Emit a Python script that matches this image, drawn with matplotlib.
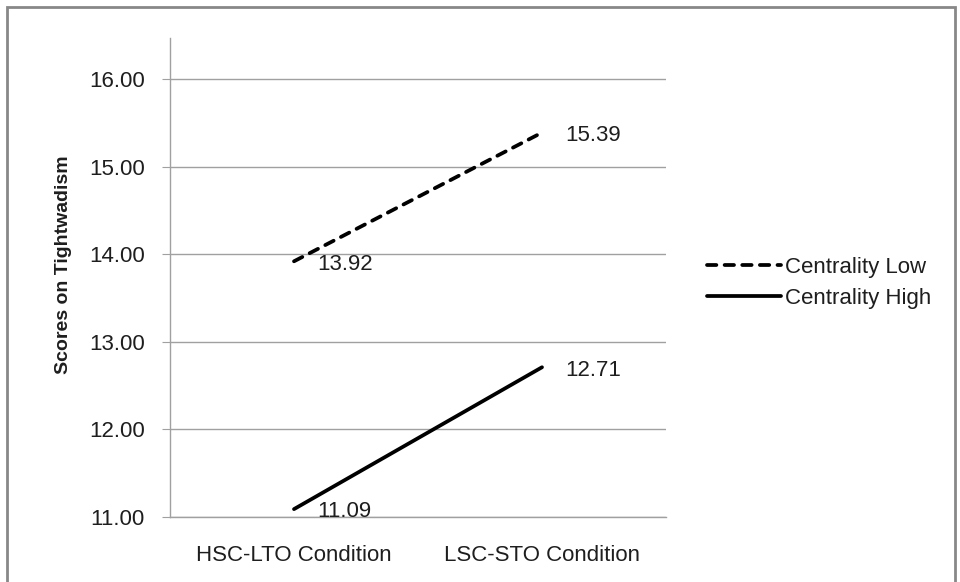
import matplotlib
matplotlib.use("Agg")
import matplotlib.pyplot as plt
from matplotlib.patches import Rectangle

categories = ["HSC-LTO Condition", "LSC-STO Condition"]
series_names = ["Centrality Low", "Centrality High"]
centrality_low = [13.92, 15.39]
centrality_high = [11.09, 12.71]
y_ticks = [11, 12, 13, 14, 15, 16]

plt.rcParams['font.family'] = ['Liberation Sans', 'DejaVu Sans']

fig = plt.figure(figsize=(9.6, 5.82), dpi=100)
ax = fig.add_axes([170/960, 1-517/582, (666-170)/960, (517-38)/582])

grid_c = '#a0a0a0'
txt_c = '#1e1e1e'
fs = 16
x = list(range(len(categories)))
l1, = ax.plot(x, centrality_low, color='black', lw=2.7, dashes=(2.5, 2.2),
              dash_capstyle='round', solid_capstyle='round', label=series_names[0])
l2, = ax.plot(x, centrality_high, color='black', lw=2.7,
              solid_capstyle='round', label=series_names[1])

for ys in (centrality_low, centrality_high):
    for xi, yi in zip(x, ys):
        ax.annotate(f"{yi:.2f}", (xi, yi), xytext=(17, -2), textcoords='offset points',
                    ha='left', va='center', fontsize=fs, color=txt_c)

ax.set_xlim(-0.5, 1.5)
ax.set_ylim(11, 16.47)
ax.set_yticks(y_ticks)
ax.set_yticklabels([f"{v:.2f}" for v in y_ticks])
ax.set_xticks(x)
ax.set_xticklabels(categories)
ax.yaxis.grid(True, color=grid_c, lw=1)
ax.set_axisbelow(True)
for s in ['top', 'right']:
    ax.spines[s].set_visible(False)
for s in ['left', 'bottom']:
    ax.spines[s].set_color(grid_c)
    ax.spines[s].set_linewidth(1)
ax.tick_params(axis='y', length=6, color=grid_c, labelsize=fs, pad=12, labelcolor=txt_c)
ax.tick_params(axis='x', length=0, labelsize=fs, pad=20, labelcolor=txt_c)
ax.set_ylabel("Scores on Tightwadism", fontsize=14, fontweight='bold', color=txt_c)
ax.yaxis.set_label_coords(-0.198, (517-265)/(517-38))

leg = fig.legend(handles=[l1, l2], loc='center left', bbox_to_anchor=(703/960, 1-283/582),
                 frameon=False, fontsize=fs, handlelength=3.3, handletextpad=0.2,
                 labelspacing=0.45, borderaxespad=0, borderpad=0.2)
for t in leg.get_texts():
    t.set_color(txt_c)

fig.patches.append(Rectangle((7/960, -0.01), (955-7)/960, 1-7/582+0.01, transform=fig.transFigure,
                             fill=False, edgecolor='#888888', lw=2))

fig.savefig("out.png", dpi=100)
